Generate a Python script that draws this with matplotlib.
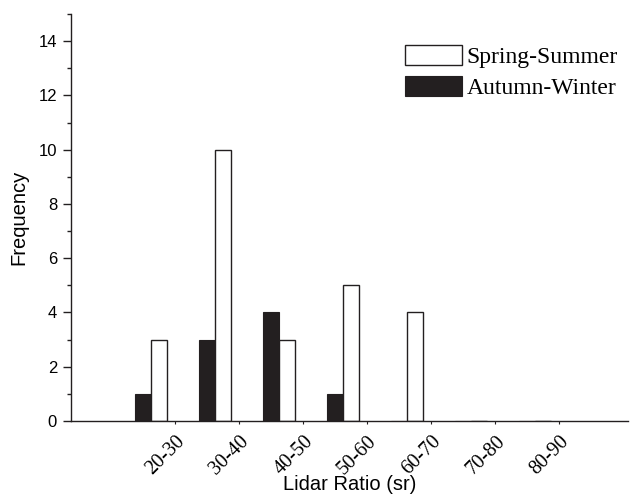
#!/usr/bin/env python3
# -*- coding:utf-8 -*-
import matplotlib
matplotlib.use("Agg")
import matplotlib.pyplot as plt
from matplotlib.ticker import MultipleLocator
import numpy as np

categories = ["20-30", "30-40", "40-50", "50-60", "60-70", "70-80", "80-90"]
spring_summer = [3, 10, 3, 5, 4, 0, 0]
autumn_winter = [1, 3, 4, 1, 0, 0, 0]

plt.rcParams["font.family"] = ["Liberation Sans", "DejaVu Sans"]

fig = plt.figure(figsize=(6.32, 4.95), dpi=100)
ax = fig.add_axes([71 / 632, 1 - 421 / 495, (628 - 71) / 632, (421 - 14) / 495])

x = np.arange(len(categories))
w = 0.25
dark = "#231f20"
ax.bar(x - w / 2, autumn_winter, w, color=dark, edgecolor=dark, linewidth=0.8,
       label="Autumn-Winter")
ax.bar(x + w / 2, spring_summer, w, color="white", edgecolor=dark, linewidth=1.0,
       label="Spring-Summer")

ax.set_xlim(-1.25, 7.45)
ax.set_ylim(0, 15)
ax.yaxis.set_major_locator(MultipleLocator(2))
ax.yaxis.set_minor_locator(MultipleLocator(1))
# labels sit a bit right of the bar groups in the original
ax.set_xticks(x + 0.38)
ax.set_xticklabels(categories, rotation=45, ha="right", rotation_mode="anchor",
                   fontsize=14.5, family="Liberation Serif")

for s in ["top", "right"]:
    ax.spines[s].set_visible(False)
for s in ["left", "bottom"]:
    ax.spines[s].set_color(dark)
    ax.spines[s].set_linewidth(1.0)
ax.tick_params(axis="y", which="major", direction="out", length=6, width=1,
               colors=dark, labelsize=12, labelcolor="black", pad=4)
ax.tick_params(axis="y", which="minor", direction="out", length=3, width=1,
               colors=dark)
ax.tick_params(axis="x", which="major", direction="out", length=2, width=0.8,
               colors=dark, labelcolor="black", pad=6)

ax.set_ylabel("Frequency", fontsize=14.5, labelpad=7)
ax.set_xlabel("Lidar Ratio (sr)", fontsize=14.5, labelpad=-3)

h, l = ax.get_legend_handles_labels()
leg = ax.legend(h[::-1], l[::-1], loc="upper left",
                bbox_to_anchor=((405 - 71) / (628 - 71), 1 - (45 - 14) / (421 - 14)),
                frameon=False, prop={"family": "Liberation Serif", "size": 17},
                handlelength=2.4, handleheight=0.95, handletextpad=0.2,
                labelspacing=0.32, borderpad=0, borderaxespad=0)

fig.savefig("out.png", dpi=100)
